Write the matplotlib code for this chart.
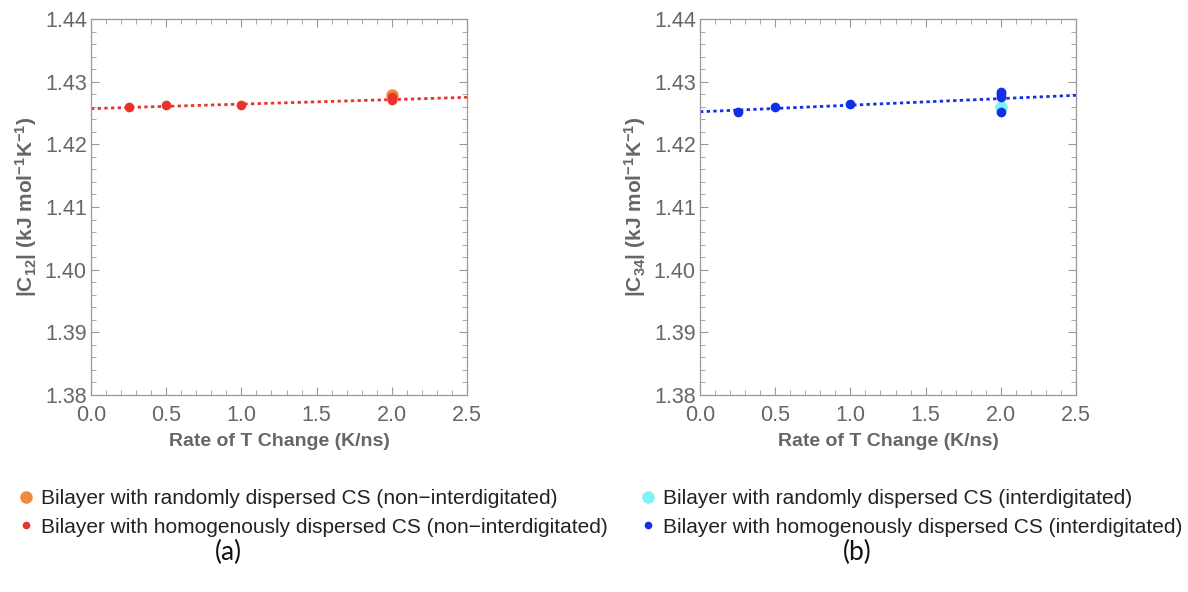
import numpy as np
import matplotlib
matplotlib.use("Agg")
import matplotlib.pyplot as plt
from matplotlib.ticker import MultipleLocator
from matplotlib.lines import Line2D

# ---- data ----
a_random_x = [2.0]
a_random_y = [1.4279]
a_homog_x = [0.25, 0.5, 1.0, 2.0, 2.0]
a_homog_y = [1.4259, 1.4263, 1.4263, 1.4271, 1.4275]
a_fit_intercept = 1.4257
a_fit_slope = 0.00072

b_random_x = [2.0]
b_random_y = [1.4260]
b_homog_x = [0.25, 0.5, 1.0, 2.0, 2.0, 2.0, 2.0]
b_homog_y = [1.4251, 1.4260, 1.4265, 1.4284, 1.4280, 1.4275, 1.4252]
b_fit_intercept = 1.4252
b_fit_slope = 0.00105

xlim = (0.0, 2.5)
ylim = (1.38, 1.44)

W, H = 1188, 592
plt.rcParams['font.family'] = ['Liberation Sans', 'DejaVu Sans']
plt.rcParams['mathtext.fontset'] = 'custom'
plt.rcParams['mathtext.rm'] = 'Liberation Sans'
plt.rcParams['mathtext.bf'] = 'Liberation Sans:bold'
plt.rcParams['mathtext.it'] = 'Liberation Sans:italic'
fig = plt.figure(figsize=(W / 100, H / 100), dpi=100)

GRAY = '#666666'
FRAME = '#999999'


def make_panel(left_px, right_px, rx, ry, hx, hy, icpt, slope, c_rand, c_hom,
               ylabel, leg_labels, caption, leg_x_px, cap_x_px):
    top_px, bot_px = 19, 395
    ax = fig.add_axes([left_px / W, 1 - bot_px / H, (right_px - left_px) / W,
                       (bot_px - top_px) / H])
    xs = np.array(xlim)
    ax.plot(xs, icpt + slope * xs, ls=(0, (1.2, 1.2)), color=c_hom, lw=2.0,
            zorder=2, clip_on=False)
    ax.plot(rx, ry, 'o', color=c_rand, ms=9, zorder=3, mec='none')
    ax.plot(hx, hy, 'o', color=c_hom, ms=7, zorder=4, mec='none')
    ax.set_xlim(*xlim)
    ax.set_ylim(*ylim)
    ax.xaxis.set_major_locator(MultipleLocator(0.5))
    ax.xaxis.set_minor_locator(MultipleLocator(0.1))
    ax.yaxis.set_major_locator(MultipleLocator(0.01))
    ax.yaxis.set_minor_locator(MultipleLocator(0.002))
    ax.tick_params(which='both', direction='in', top=True, right=True,
                   colors=FRAME, labelcolor=GRAY, labelsize=15.5)
    ax.tick_params(which='major', length=6, width=0.8)
    ax.tick_params(which='minor', length=3.5, width=0.6)
    ax.tick_params(axis='x', pad=7)
    ax.tick_params(axis='y', pad=3)
    ax.set_xticklabels([f'{v:.1f}' for v in ax.get_xticks()])
    ax.set_yticklabels([f'{v:.2f}' for v in ax.get_yticks()])
    for s in ax.spines.values():
        s.set_color(FRAME)
        s.set_linewidth(0.9)
    ax.set_xlabel('Rate of T Change (K/ns)', fontsize=14, fontweight='bold',
                  color=GRAY, labelpad=5)
    ax.set_ylabel(ylabel, fontsize=15, fontweight='bold', color=GRAY, labelpad=4)

    # legend below
    handles = [Line2D([], [], ls='none', marker='o', color=c_rand, ms=9, mec='none'),
               Line2D([], [], ls='none', marker='o', color=c_hom, ms=5.5, mec='none')]
    fig.legend(handles, leg_labels, loc='upper left',
               bbox_to_anchor=(leg_x_px / W, 1 - 481 / H), frameon=False,
               fontsize=15, handlelength=0.8, handletextpad=0.35,
               labelspacing=0.45, labelcolor='#222222', borderaxespad=0)
    fig.text(cap_x_px / W, 1 - 552 / H, caption, fontsize=19, ha='center',
             va='center', color='#111111', family=['Lato', 'DejaVu Sans'])
    return ax


make_panel(91, 467, a_random_x, a_random_y, a_homog_x, a_homog_y,
           a_fit_intercept, a_fit_slope, '#F0893A', '#E8332A',
           r'|C$_{\mathbf{12}}$| (kJ mol$^{\mathbf{-1}}$K$^{\mathbf{-1}}$)',
           ['Bilayer with randomly dispersed CS (non\u2212interdigitated)',
            'Bilayer with homogenously dispersed CS (non\u2212interdigitated)'],
           '(a)', 9, 228)

make_panel(700, 1076, b_random_x, b_random_y, b_homog_x, b_homog_y,
           b_fit_intercept, b_fit_slope, '#7FF3F3', '#1030E8',
           r'|C$_{\mathbf{34}}$| (kJ mol$^{\mathbf{-1}}$K$^{\mathbf{-1}}$)',
           ['Bilayer with randomly dispersed CS (interdigitated)',
            'Bilayer with homogenously dispersed CS (interdigitated)'],
           '(b)', 631, 857)

fig.savefig('out.png', dpi=100)
